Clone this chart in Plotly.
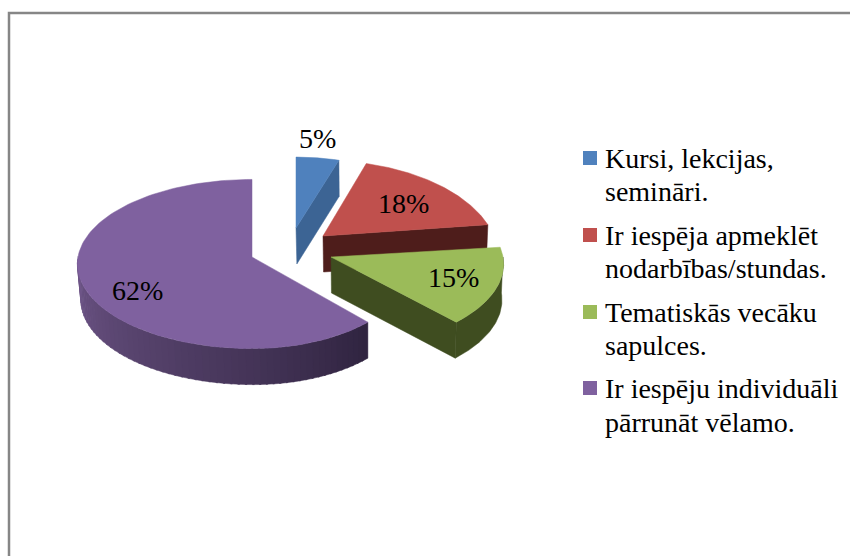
#!/usr/bin/env python3
"""Exploded 3D-look pie chart, drawn as filled polygons on hidden pixel axes."""
import numpy as np
import plotly.graph_objects as go

categories = [
    "Kursi, lekcijas,<br>semināri.",
    "Ir iespēja apmeklēt<br>nodarbības/stundas.",
    "Tematiskās vecāku<br>sapulces.",
    "Ir iespēju individuāli<br>pārrunāt vēlamo.",
]
values = [5, 18, 15, 62]

top_colors = ["#4f81bd", "#c0504d", "#9bbb59", "#7f619f"]
side_colors = ["#3c6494", "#4e1d1b", "#3f4d20", None]

# per slice projection: apex x, apex y, radius x (left), radius x (right), radius y, perspective
GEOM = [
    (296, 228, 152, 152, 78, 0.10),
    (323, 236, 171, 171, 93, 0.232),
    (331, 257, 172, 172, 84, 0.083),
    (252, 257, 174, 159, 84, 0.083),
]
DEPTH = 36
LABEL_POS = [(317, 138), (403, 203), (453, 277), (137, 290)]
LEGEND_Y = [(158, 191), (235, 268), (312, 345), (388, 422)]
FONT = "Liberation Serif"


def project(theta, g):
    ax, ay, rl, rr, ry, p = g
    s = 1 / (1 + p * np.cos(theta))
    r = np.where(np.sin(theta) < 0, rl, rr)
    return ax + r * np.sin(theta) * s, ay - ry * np.cos(theta) * s


def lower(x, y):
    # bottom rim sits lower and very slightly pulled toward the right
    return x + (368 - x) * 0.012, y + DEPTH


def poly(fig, x, y, color):
    fig.add_trace(go.Scatter(
        x=np.append(x, x[0]), y=np.append(y, y[0]), mode="lines", fill="toself",
        fillcolor=color, line=dict(width=0.5, color=color),
        hoverinfo="skip", showlegend=False,
    ))


def side_gradient(t):
    # light on the left of the rim, dark towards the right
    return "rgb({:.0f},{:.0f},{:.0f})".format(
        48 + (112 - 48) * t, 36 + (87 - 36) * t, 64 + (138 - 64) * t
    )


fig = go.Figure()

fractions = np.array(values) / sum(values)
ends = np.cumsum(fractions) * 2 * np.pi
starts = ends - fractions * 2 * np.pi

# painter's order: purple at the back, green last
for i in [3, 0, 1, 2]:
    g = GEOM[i]
    a0, a1 = starts[i], ends[i]
    ax, ay = g[0], g[1]
    arc = np.linspace(a0, a1, 120)
    tx, ty = project(arc, g)

    if i == 3:
        # purple rim, split up so the shading can run across it
        rim = np.linspace(a0, 1.5 * np.pi, 60)
        for j in range(len(rim) - 1):
            seg = np.linspace(rim[j], rim[j + 1] + 0.01, 4)
            x, y = project(seg, g)
            bx, by = lower(x, y)
            t = (rim[j] - a0) / (1.5 * np.pi - a0)
            poly(fig, np.r_[x, bx[::-1]], np.r_[y, by[::-1]], side_gradient(t))
    else:
        # outer rim (only what faces the viewer) and the radial wall at the end angle
        if a1 > np.pi / 2:
            seg = np.linspace(max(a0, np.pi / 2), a1, 60)
            x, y = project(seg, g)
            bx, by = lower(x, y)
            poly(fig, np.r_[x, bx[::-1]], np.r_[y, by[::-1]], side_colors[i])
        ex, ey = project(np.array([a1]), g)
        wx = np.array([ax, ex[0]])
        wy = np.array([ay, ey[0]])
        bx, by = lower(wx, wy)
        poly(fig, np.r_[wx, bx[::-1]], np.r_[wy, by[::-1]], side_colors[i])

    poly(fig, np.r_[ax, tx], np.r_[ay, ty], top_colors[i])

annotations = []
for v, (x, y) in zip(values, LABEL_POS):
    annotations.append(dict(
        x=x, y=y, xref="x", yref="y", text=f"{v}%", showarrow=False,
        font=dict(family=FONT, size=28, color="#000000"),
    ))

swatch_y = []
for name, (y1, y2) in zip(categories, LEGEND_Y):
    swatch_y.append(y1)
    for line, y in zip(name.split("<br>"), (y1, y2)):
        annotations.append(dict(
            x=603, y=y, xref="x", yref="y", text=line, showarrow=False,
            xanchor="left", yanchor="middle",
            font=dict(family=FONT, size=28, color="#000000"),
        ))

fig.add_trace(go.Scatter(
    x=[590] * 4, y=swatch_y, mode="markers",
    marker=dict(symbol="square", size=14, color=top_colors),
    hoverinfo="skip", showlegend=False,
))

fig.update_layout(
    width=850, height=556,
    margin=dict(l=0, r=0, t=0, b=0),
    paper_bgcolor="#ffffff", plot_bgcolor="#ffffff",
    xaxis=dict(range=[0, 850], visible=False, fixedrange=True),
    yaxis=dict(range=[556, 0], visible=False, fixedrange=True),
    annotations=annotations,
    shapes=[dict(
        type="path", xref="x", yref="y",
        path="M 9 556 L 9 13 L 850 13",
        line=dict(color="#868686", width=2.5),
    )],
)

fig.write_html(
    "out.html",
    config={"displayModeBar": False},
    post_script="document.body.style.margin='0';document.body.style.overflow='hidden';",
)
